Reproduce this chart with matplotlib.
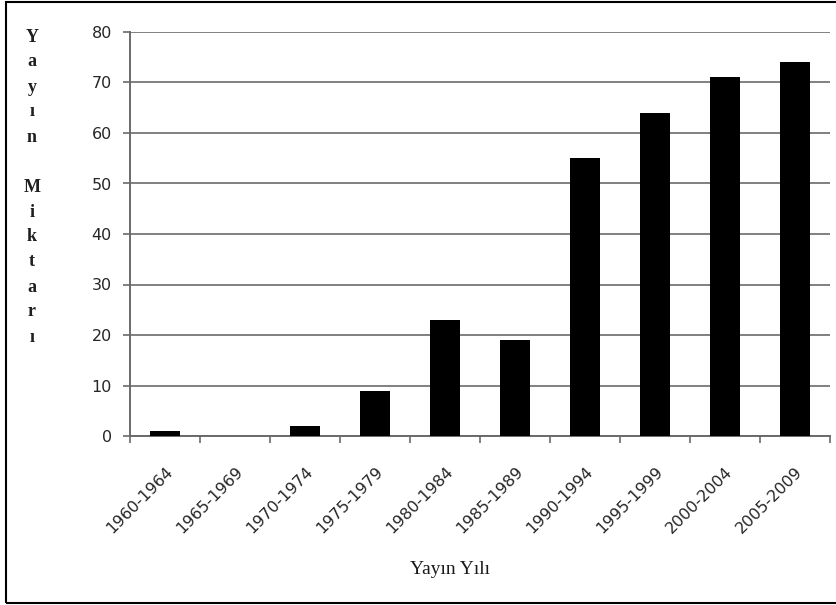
import matplotlib.pyplot as plt
import numpy as np
from matplotlib.patches import Rectangle

periods = ["1960-1964", "1965-1969", "1970-1974", "1975-1979", "1980-1984",
           "1985-1989", "1990-1994", "1995-1999", "2000-2004", "2005-2009"]
counts = [1, 0, 2, 9, 23, 19, 55, 64, 71, 74]
y_ticks = [0, 10, 20, 30, 40, 50, 60, 70, 80]
y_title = "Yayın Miktarı"
x_title = "Yayın Yılı"

W, H = 836, 605
fig = plt.figure(figsize=(W / 100, H / 100), dpi=100)
ax = fig.add_axes([130 / W, 1 - 436 / H, 700 / W, 404 / H])

x = np.arange(len(periods))
ax.bar(x, counts, width=0.42, color="black", zorder=3)

ax.set_xlim(-0.5, len(periods) - 0.5)
ax.set_ylim(0, 80)
ax.set_yticks(y_ticks)
ax.yaxis.grid(True, color="#808080", linewidth=1.4, zorder=0)
ax.tick_params(axis="y", length=5, width=1.2, color="#6a6a6a", labelsize=11.5,
               labelcolor="#262626", pad=8)
for lab in ax.get_yticklabels():
    lab.set_family("DejaVu Sans")

# category labels at bar centres, tick marks at category boundaries
ax.set_xticks(x)
ax.set_xticklabels(periods, rotation=45, ha="right", rotation_mode="anchor",
                   family="DejaVu Sans", fontsize=11.5, color="#262626")
ax.tick_params(axis="x", which="major", length=0, pad=20)
ax.set_xticks(np.arange(len(periods) + 1) - 0.5, minor=True)
ax.tick_params(axis="x", which="minor", length=5, width=1.2, color="#6a6a6a")

for side in ("top", "right"):
    ax.spines[side].set_visible(False)
for side in ("left", "bottom"):
    ax.spines[side].set_color("#6a6a6a")
    ax.spines[side].set_linewidth(1.4)

# vertical letter-by-letter y title
for row, c in enumerate(y_title):
    if c == " ":
        continue
    fig.text(32 / W, 1 - (37 + 25 * row) / H, c, family="Liberation Serif",
             fontsize=13, weight="bold", ha="center", va="center",
             color="#1f1f1f")

fig.text(450 / W, 1 - 570 / H, x_title, family="Liberation Serif",
         fontsize=14, ha="center", va="center", color="#1a1a1a")

fig.patches.append(Rectangle((6 / W, 2 / H), (W + 10) / W, (H - 4) / H,
                             transform=fig.transFigure, fill=False,
                             edgecolor="black", linewidth=1.5))

fig.savefig("out.png", dpi=100)
